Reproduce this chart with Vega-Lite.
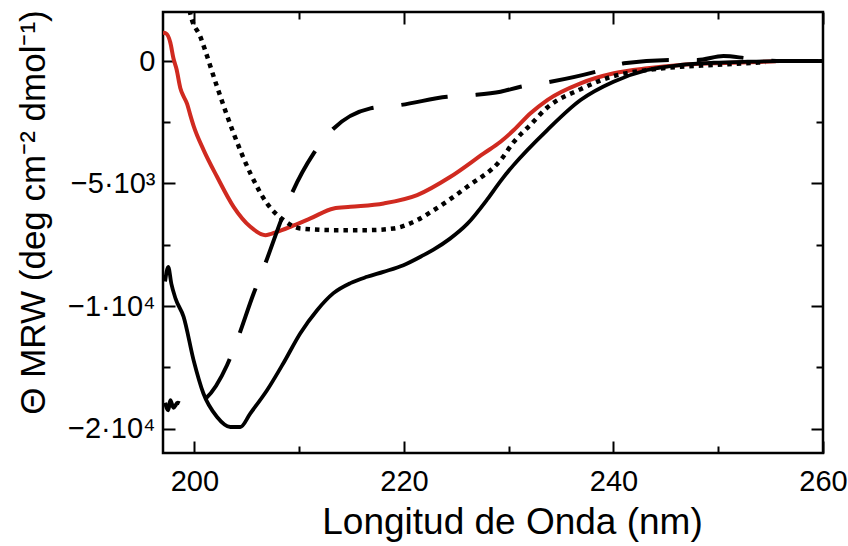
{
  "$schema": "https://vega.github.io/schema/vega-lite/v6.json",
  "width": 660,
  "height": 441,
  "autosize": "none",
  "padding": {"left": 163, "top": 12, "right": 25, "bottom": 93},
  "background": "white",
  "config": {
    "view": {"stroke": "black", "strokeWidth": 2.5},
    "axis": {
      "labelFont": "Liberation Sans",
      "titleFont": "Liberation Sans",
      "labelColor": "black",
      "titleColor": "black",
      "titleFontWeight": "normal",
      "domain": false,
      "grid": false,
      "tickColor": "black",
      "tickWidth": 2,
      "labelOverlap": false,
      "labelFlush": false,
      "labelBound": false
    }
  },
  "data": {
    "values": [
      {"s": "solid", "x": 197.2, "y": -9000},
      {"s": "solid", "x": 197.5, "y": -8400},
      {"s": "solid", "x": 197.8, "y": -9100},
      {"s": "solid", "x": 198.2, "y": -9700},
      {"s": "solid", "x": 198.97, "y": -10445},
      {"s": "solid", "x": 199.92, "y": -12214},
      {"s": "solid", "x": 200.85, "y": -13562},
      {"s": "solid", "x": 202.16, "y": -14530},
      {"s": "solid", "x": 203.43, "y": -14939},
      {"s": "solid", "x": 204.38, "y": -14939},
      {"s": "solid", "x": 205.34, "y": -14379},
      {"s": "solid", "x": 206.93, "y": -13440},
      {"s": "solid", "x": 208.49, "y": -12336},
      {"s": "solid", "x": 210.11, "y": -11110},
      {"s": "solid", "x": 211.71, "y": -10170},
      {"s": "solid", "x": 213.27, "y": -9475},
      {"s": "solid", "x": 214.89, "y": -9066},
      {"s": "solid", "x": 216.48, "y": -8809},
      {"s": "solid", "x": 218.04, "y": -8605},
      {"s": "solid", "x": 219.95, "y": -8333},
      {"s": "solid", "x": 221.86, "y": -7925},
      {"s": "solid", "x": 222.82, "y": -7700},
      {"s": "solid", "x": 224.4, "y": -7250},
      {"s": "solid", "x": 226.04, "y": -6650},
      {"s": "solid", "x": 227.95, "y": -5650},
      {"s": "solid", "x": 229.22, "y": -4900},
      {"s": "solid", "x": 230.46, "y": -4250},
      {"s": "solid", "x": 233.68, "y": -2818},
      {"s": "solid", "x": 236.86, "y": -1593},
      {"s": "solid", "x": 240.0, "y": -846},
      {"s": "solid", "x": 243.23, "y": -368},
      {"s": "solid", "x": 246.4, "y": -163},
      {"s": "solid", "x": 249.57, "y": -72},
      {"s": "solid", "x": 252.8, "y": -29},
      {"s": "solid", "x": 256.0, "y": -5},
      {"s": "solid", "x": 260.0, "y": 0},

      {"s": "dashed", "x": 197.2, "y": -13950},
      {"s": "dashed", "x": 197.5, "y": -14250},
      {"s": "dashed", "x": 197.7, "y": -13850},
      {"s": "dashed", "x": 198.0, "y": -14150},
      {"s": "dashed", "x": 198.4, "y": -13950},
      {"s": "dashed", "x": 199.0, "y": -14050},
      {"s": "dashed", "x": 199.8, "y": -14050},
      {"s": "dashed", "x": 200.4, "y": -13983},
      {"s": "dashed", "x": 203.11, "y": -12418},
      {"s": "dashed", "x": 204.07, "y": -11397},
      {"s": "dashed", "x": 205.65, "y": -9490},
      {"s": "dashed", "x": 206.61, "y": -8443},
      {"s": "dashed", "x": 208.52, "y": -6221},
      {"s": "dashed", "x": 209.16, "y": -5543},
      {"s": "dashed", "x": 211.38, "y": -3770},
      {"s": "dashed", "x": 212.98, "y": -2888},
      {"s": "dashed", "x": 216.8, "y": -1932},
      {"s": "dashed", "x": 219.66, "y": -1797},
      {"s": "dashed", "x": 224.13, "y": -1458},
      {"s": "dashed", "x": 226.67, "y": -1389},
      {"s": "dashed", "x": 229.22, "y": -1254},
      {"s": "dashed", "x": 231.13, "y": -1050},
      {"s": "dashed", "x": 234.0, "y": -846},
      {"s": "dashed", "x": 238.3, "y": -437},
      {"s": "dashed", "x": 241.0, "y": -94},
      {"s": "dashed", "x": 245.5, "y": 40},
      {"s": "dashed", "x": 248.0, "y": 40},
      {"s": "dashed", "x": 250.5, "y": 200},
      {"s": "dashed", "x": 252.8, "y": 110},
      {"s": "dashed", "x": 256.0, "y": 0},
      {"s": "dashed", "x": 260.0, "y": 0},

      {"s": "dotted", "x": 199.0, "y": 4000},
      {"s": "dotted", "x": 199.6, "y": 1949},
      {"s": "dotted", "x": 200.56, "y": 993},
      {"s": "dotted", "x": 202.16, "y": -1050},
      {"s": "dotted", "x": 203.74, "y": -2953},
      {"s": "dotted", "x": 205.34, "y": -4587},
      {"s": "dotted", "x": 206.93, "y": -5813},
      {"s": "dotted", "x": 208.52, "y": -6495},
      {"s": "dotted", "x": 210.11, "y": -6834},
      {"s": "dotted", "x": 213.29, "y": -6904},
      {"s": "dotted", "x": 216.48, "y": -6904},
      {"s": "dotted", "x": 219.02, "y": -6834},
      {"s": "dotted", "x": 221.26, "y": -6495},
      {"s": "dotted", "x": 222.85, "y": -6086},
      {"s": "dotted", "x": 226.04, "y": -5134},
      {"s": "dotted", "x": 229.22, "y": -4045},
      {"s": "dotted", "x": 230.49, "y": -3300},
      {"s": "dotted", "x": 232.08, "y": -2600},
      {"s": "dotted", "x": 233.68, "y": -1900},
      {"s": "dotted", "x": 236.86, "y": -1150},
      {"s": "dotted", "x": 240.04, "y": -613},
      {"s": "dotted", "x": 243.23, "y": -368},
      {"s": "dotted", "x": 246.4, "y": -233},
      {"s": "dotted", "x": 249.59, "y": -163},
      {"s": "dotted", "x": 252.45, "y": -94},
      {"s": "dotted", "x": 254.5, "y": -50},

      {"s": "red", "x": 197.0, "y": 1150},
      {"s": "red", "x": 197.3, "y": 1120},
      {"s": "red", "x": 197.7, "y": 750},
      {"s": "red", "x": 198.0, "y": 100},
      {"s": "red", "x": 198.3, "y": -350},
      {"s": "red", "x": 198.65, "y": -1100},
      {"s": "red", "x": 198.97, "y": -1450},
      {"s": "red", "x": 199.3, "y": -1750},
      {"s": "red", "x": 199.6, "y": -2200},
      {"s": "red", "x": 199.92, "y": -2650},
      {"s": "red", "x": 200.88, "y": -3636},
      {"s": "red", "x": 202.16, "y": -4726},
      {"s": "red", "x": 203.74, "y": -5952},
      {"s": "red", "x": 205.34, "y": -6769},
      {"s": "red", "x": 206.77, "y": -7108},
      {"s": "red", "x": 207.89, "y": -6973},
      {"s": "red", "x": 209.16, "y": -6769},
      {"s": "red", "x": 211.07, "y": -6426},
      {"s": "red", "x": 213.29, "y": -6017},
      {"s": "red", "x": 214.89, "y": -5952},
      {"s": "red", "x": 218.07, "y": -5813},
      {"s": "red", "x": 221.26, "y": -5474},
      {"s": "red", "x": 224.44, "y": -4726},
      {"s": "red", "x": 227.62, "y": -3770},
      {"s": "red", "x": 229.22, "y": -3297},
      {"s": "red", "x": 230.49, "y": -2819},
      {"s": "red", "x": 232.08, "y": -2136},
      {"s": "red", "x": 233.68, "y": -1593},
      {"s": "red", "x": 236.86, "y": -911},
      {"s": "red", "x": 240.04, "y": -502},
      {"s": "red", "x": 243.23, "y": -298},
      {"s": "red", "x": 246.4, "y": -163},
      {"s": "red", "x": 249.59, "y": -94},
      {"s": "red", "x": 254.36, "y": -29},
      {"s": "red", "x": 255.5, "y": -10}
    ]
  },
  "layer": [
    {
      "transform": [{"filter": "datum.s === 'red'"}],
      "mark": {"type": "line", "color": "#d02a20", "strokeWidth": 4, "interpolate": "monotone", "clip": true},
      "encoding": {
        "x": {"field": "x", "type": "quantitative", "scale": {"domain": [197, 260], "nice": false, "zero": false},
          "axis": {"orient": "top", "values": [200, 210, 220, 230, 240, 250, 260], "labels": false, "title": null,
            "tickSize": {"condition": {"test": "datum.value % 20 === 0", "value": -12}, "value": -7}}},
        "y": {"field": "y", "type": "quantitative", "scale": {"domain": [-16000, 2000], "nice": false, "zero": false},
          "axis": {"orient": "right", "values": [0, -2500, -5000, -7500, -10000, -12500, -15000], "labels": false, "title": null,
            "tickSize": {"condition": {"test": "datum.value % 5000 === 0", "value": -12}, "value": -7}}}
      }
    },
    {
      "transform": [{"filter": "datum.s === 'dotted'"}],
      "mark": {"type": "line", "color": "black", "strokeWidth": 4.5, "strokeDash": [4.5, 5], "strokeCap": "butt", "interpolate": "monotone", "clip": true},
      "encoding": {
        "x": {"field": "x", "type": "quantitative", "axis": null},
        "y": {"field": "y", "type": "quantitative", "axis": null}
      }
    },
    {
      "transform": [{"filter": "datum.s === 'dashed'"}],
      "mark": {"type": "line", "color": "black", "strokeWidth": 4, "strokeDash": [47, 28], "strokeDashOffset": 12, "interpolate": "monotone", "clip": true},
      "encoding": {
        "x": {"field": "x", "type": "quantitative", "axis": null},
        "y": {"field": "y", "type": "quantitative", "axis": null}
      }
    },
    {
      "transform": [{"filter": "datum.s === 'solid'"}],
      "mark": {"type": "line", "color": "black", "strokeWidth": 3.8, "interpolate": "monotone", "clip": true},
      "encoding": {
        "x": {"field": "x", "type": "quantitative",
          "axis": {"orient": "bottom", "values": [200, 210, 220, 230, 240, 250, 260],
            "labelExpr": "datum.value % 20 === 0 ? datum.value : ''",
            "labelFontSize": 29, "labelPadding": 26,
            "tickSize": {"condition": {"test": "datum.value % 20 === 0", "value": -12}, "value": -7},
            "title": "Longitud de Onda (nm)", "titleFontSize": 37, "titlePadding": 3, "titleX": 349}},
        "y": {"field": "y", "type": "quantitative",
          "axis": {"orient": "left", "values": [0, -2500, -5000, -7500, -10000, -12500, -15000],
            "labelExpr": "datum.value === 0 ? '0' : datum.value === -5000 ? '\u22125\u00b710\u00b3' : datum.value === -10000 ? '\u22121\u00b710\u2074' : datum.value === -15000 ? '\u22122\u00b710\u2074' : ''",
            "labelFontSize": 29, "labelPadding": 20,
            "tickSize": {"condition": {"test": "datum.value % 5000 === 0", "value": -12}, "value": -7},
            "title": "\u0398 MRW (deg cm\u207b\u00b2 dmol\u207b\u00b9)", "titleFontSize": 35, "titlePadding": 16, "titleY": 200}}
      }
    }
  ],
  "resolve": {"axis": {"x": "independent", "y": "independent"}}
}
